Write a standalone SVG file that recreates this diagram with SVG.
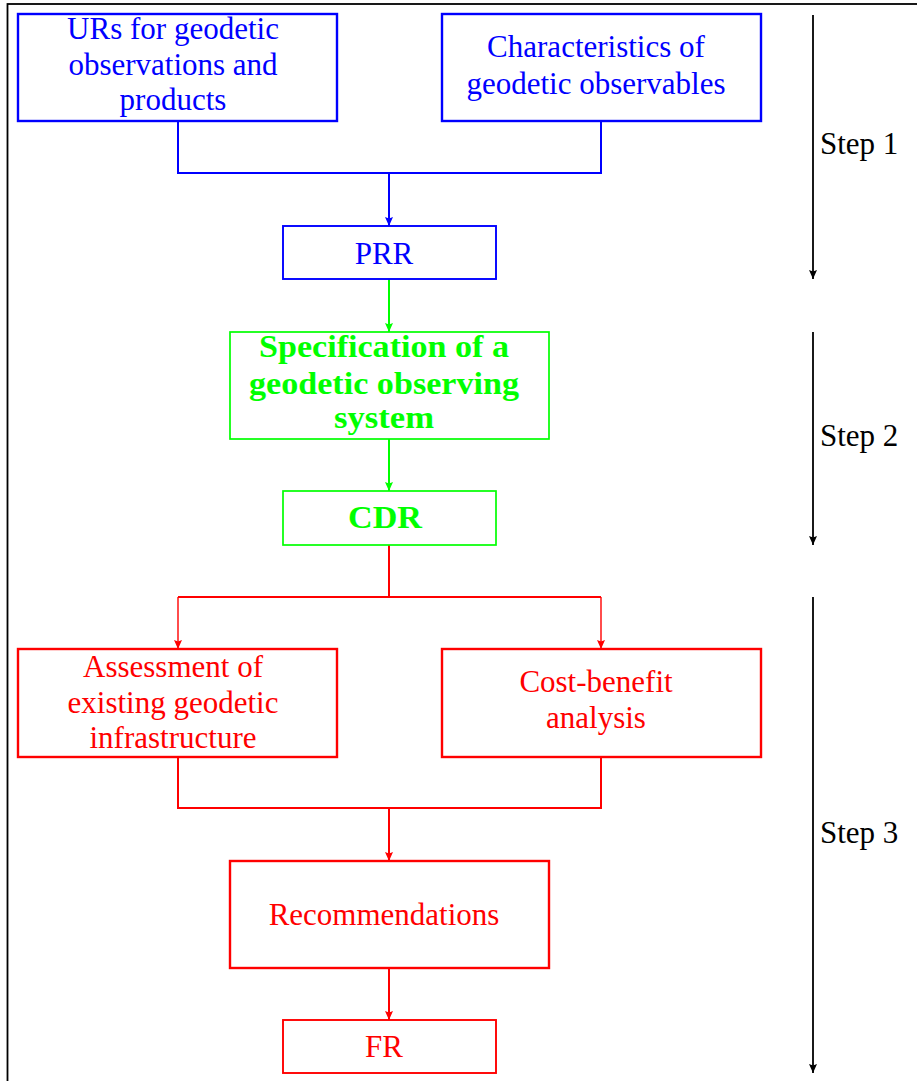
<svg xmlns="http://www.w3.org/2000/svg" width="917" height="1081" viewBox="0 0 917 1081">
<style>
text{font-family:"Liberation Serif","Times New Roman",serif;font-size:31px;text-anchor:middle}
.b{fill:#0000ff}.g{fill:#00ff00;font-weight:bold}.r{fill:#ff0000}.k{fill:#000;text-anchor:start}
.nb{fill:#fff;stroke:#0000ff;stroke-width:2.4}
.ng{fill:#fff;stroke:#00ff00;stroke-width:1.7}
.nr{fill:#fff;stroke:#ff0000;stroke-width:2.4}
.cb{fill:none;stroke:#0000ff;stroke-width:2}
.cg{fill:none;stroke:#00ff00;stroke-width:2}
.cr{fill:none;stroke:#ff0000;stroke-width:2}
.ck{fill:none;stroke:#000;stroke-width:1.8}
</style>
<defs>
<marker id="ab" markerWidth="9" markerHeight="9" refX="9" refY="4.5" orient="auto" markerUnits="userSpaceOnUse"><path d="M0,0.5 L9,4.5 L0,8.5 L1.5,4.5 Z" fill="#0000ff"/></marker>
<marker id="ag" markerWidth="9" markerHeight="9" refX="9" refY="4.5" orient="auto" markerUnits="userSpaceOnUse"><path d="M0,0.5 L9,4.5 L0,8.5 L1.5,4.5 Z" fill="#00ff00"/></marker>
<marker id="ar" markerWidth="9" markerHeight="9" refX="9" refY="4.5" orient="auto" markerUnits="userSpaceOnUse"><path d="M0,0.5 L9,4.5 L0,8.5 L1.5,4.5 Z" fill="#ff0000"/></marker>
<marker id="ak" markerWidth="9" markerHeight="9" refX="9" refY="4.5" orient="auto" markerUnits="userSpaceOnUse"><path d="M0,0.5 L9,4.5 L0,8.5 L1.5,4.5 Z" fill="#000"/></marker>
</defs>
<rect x="7.5" y="4" width="930" height="1100" fill="#fff" stroke="#000" stroke-width="1.8"/>
<g id="connectors">
<path class="cb" d="M178,121 V173 H601 V121"/>
<path class="cb" d="M389,173 V226" marker-end="url(#ab)"/>
<path class="cg" d="M389,279 V332" marker-end="url(#ag)"/>
<path class="cg" d="M389,439 V491" marker-end="url(#ag)"/>
<path class="cr" d="M389,545 V597 M178,597 H601"/>
<path class="cr" style="stroke-width:1.4" d="M178,597 V649" marker-end="url(#ar)"/>
<path class="cr" style="stroke-width:1.4" d="M601,597 V649" marker-end="url(#ar)"/>
<path class="cr" d="M178,757 V808 H601 V757"/>
<path class="cr" d="M389,808 V861" marker-end="url(#ar)"/>
<path class="cr" d="M389,968 V1020" marker-end="url(#ar)"/>
<path class="ck" d="M813,15 V279" marker-end="url(#ak)"/>
<path class="ck" d="M813,332 V545" marker-end="url(#ak)"/>
<path class="ck" d="M813,597 V1073" marker-end="url(#ak)"/>
</g>
<g id="urs">
<rect class="nb" x="18" y="14" width="319" height="107"/>
<text class="b" x="173" y="39">URs for geodetic</text>
<text class="b" x="173" y="75">observations and</text>
<text class="b" x="173" y="110">products</text>
</g>
<g id="characteristics">
<rect class="nb" x="442" y="14" width="319" height="107"/>
<text class="b" x="596" y="57">Characteristics of</text>
<text class="b" x="596" y="94">geodetic observables</text>
</g>
<g id="prr">
<rect class="nb" x="283" y="226" width="213" height="53" style="stroke-width:1.9"/>
<text class="b" x="384" y="264">PRR</text>
</g>
<g id="specification">
<rect class="ng" x="230" y="332" width="319" height="107"/>
<text class="g" x="384" y="357" textLength="250" lengthAdjust="spacingAndGlyphs">Specification of a</text>
<text class="g" x="384" y="394" textLength="270" lengthAdjust="spacingAndGlyphs">geodetic observing</text>
<text class="g" x="384" y="428" textLength="100" lengthAdjust="spacingAndGlyphs">system</text>
</g>
<g id="cdr">
<rect class="ng" x="283" y="491" width="213" height="54"/>
<text class="g" x="385" y="528" textLength="74" lengthAdjust="spacingAndGlyphs">CDR</text>
</g>
<g id="assessment">
<rect class="nr" x="18" y="649" width="319" height="108"/>
<text class="r" x="173" y="677">Assessment of</text>
<text class="r" x="173" y="713">existing geodetic</text>
<text class="r" x="173" y="748">infrastructure</text>
</g>
<g id="costbenefit">
<rect class="nr" x="442" y="649" width="319" height="108"/>
<text class="r" x="596" y="692">Cost-benefit</text>
<text class="r" x="596" y="728">analysis</text>
</g>
<g id="recommendations">
<rect class="nr" x="230" y="861" width="319" height="107"/>
<text class="r" x="384" y="925">Recommendations</text>
</g>
<g id="fr">
<rect class="nr" x="283" y="1020" width="213" height="53" style="stroke-width:1.9"/>
<text class="r" x="384" y="1057">FR</text>
</g>
<g id="steps">
<text class="k" x="820" y="154">Step 1</text>
<text class="k" x="820" y="446">Step 2</text>
<text class="k" x="820" y="843">Step 3</text>
</g>
</svg>
